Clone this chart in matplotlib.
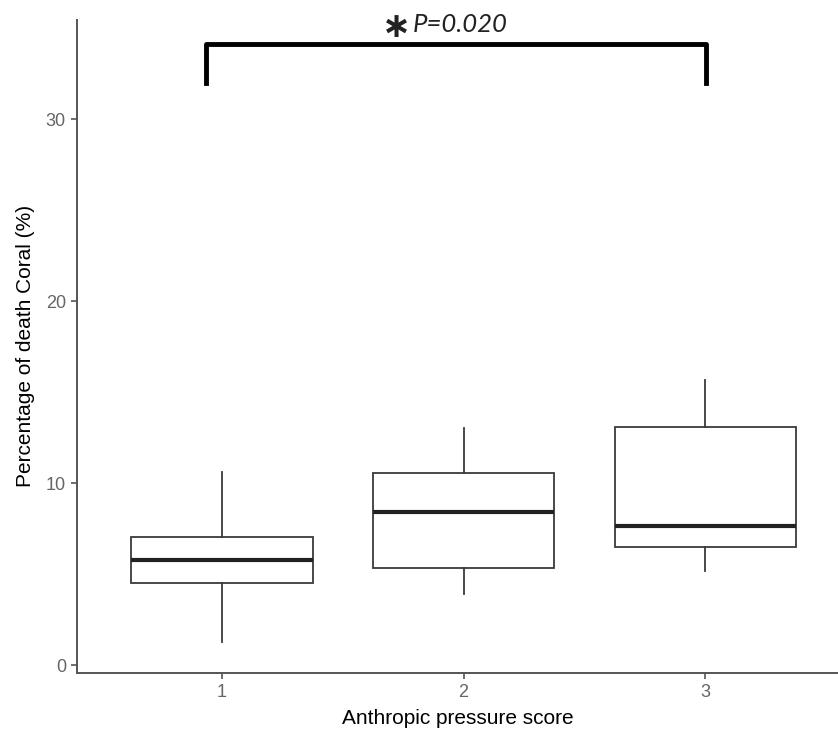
import matplotlib
matplotlib.use("Agg")
import matplotlib.pyplot as plt

plt.rcParams['font.family'] = ['Liberation Sans', 'DejaVu Sans']

# values
scores = [1, 2, 3]
score_labels = ['1', '2', '3']
whisker_low = [1.28, 3.88, 5.18]
q1 = [4.49, 5.31, 6.50]
medians = [5.77, 8.42, 7.66]
q3 = [7.05, 10.53, 13.09]
whisker_high = [10.62, 13.04, 15.66]

bracket_x = [0.935, 3.005]
bracket_y = [32.0, 34.1]
p_text = 'P=0.020'

fig = plt.figure(figsize=(8.38, 7.32), dpi=100)
ax = fig.add_axes([0.0919, 0.081, 0.9081, 0.8917])

stats = []
for i in range(len(scores)):
    stats.append({'whislo': whisker_low[i], 'q1': q1[i], 'med': medians[i],
                  'q3': q3[i], 'whishi': whisker_high[i], 'fliers': []})

grey = '#3a3a3a'
ax.bxp(stats, positions=scores, widths=0.75, showcaps=False, showfliers=False,
       patch_artist=True,
       boxprops=dict(facecolor='white', edgecolor=grey, linewidth=1.3),
       whiskerprops=dict(color=grey, linewidth=1.3),
       medianprops=dict(color='#222222', linewidth=3.0, solid_capstyle='butt'))

# significance bracket
ax.plot([bracket_x[0], bracket_x[0], bracket_x[1], bracket_x[1]],
        [bracket_y[0], bracket_y[1], bracket_y[1], bracket_y[0]],
        color='black', linewidth=3.5, solid_joinstyle='round', clip_on=False)
xm = (bracket_x[0] + bracket_x[1]) / 2
ax.text(xm - 0.248, 35.05, '\u2217', fontsize=25, fontweight='bold',
        ha='center', va='center', color='#222222', family=['DejaVu Sans'])
ax.text(xm - 0.18, 35.2, p_text, fontsize=18.5, style='italic',
        ha='left', va='center', color='#222222', family=['Lato', 'DejaVu Sans'])

ax.set_xlim(0.4, 3.55)
ax.set_ylim(-0.42, 35.44)
ax.set_xticks(scores)
ax.set_xticklabels(score_labels)
ax.set_yticks([0, 10, 20, 30])

for s in ['top', 'right']:
    ax.spines[s].set_visible(False)
for s in ['left', 'bottom']:
    ax.spines[s].set_color('#555555')
    ax.spines[s].set_linewidth(1.4)
ax.tick_params(axis='both', colors='#555555', labelcolor='#666666',
               labelsize=13, length=4, width=1.2, pad=4)

ax.set_xlabel('Anthropic pressure score', fontsize=15, color='black', labelpad=6)
ax.set_ylabel('Percentage of death Coral (%)', fontsize=15, color='black', labelpad=8)

fig.savefig('out.png', dpi=100)
